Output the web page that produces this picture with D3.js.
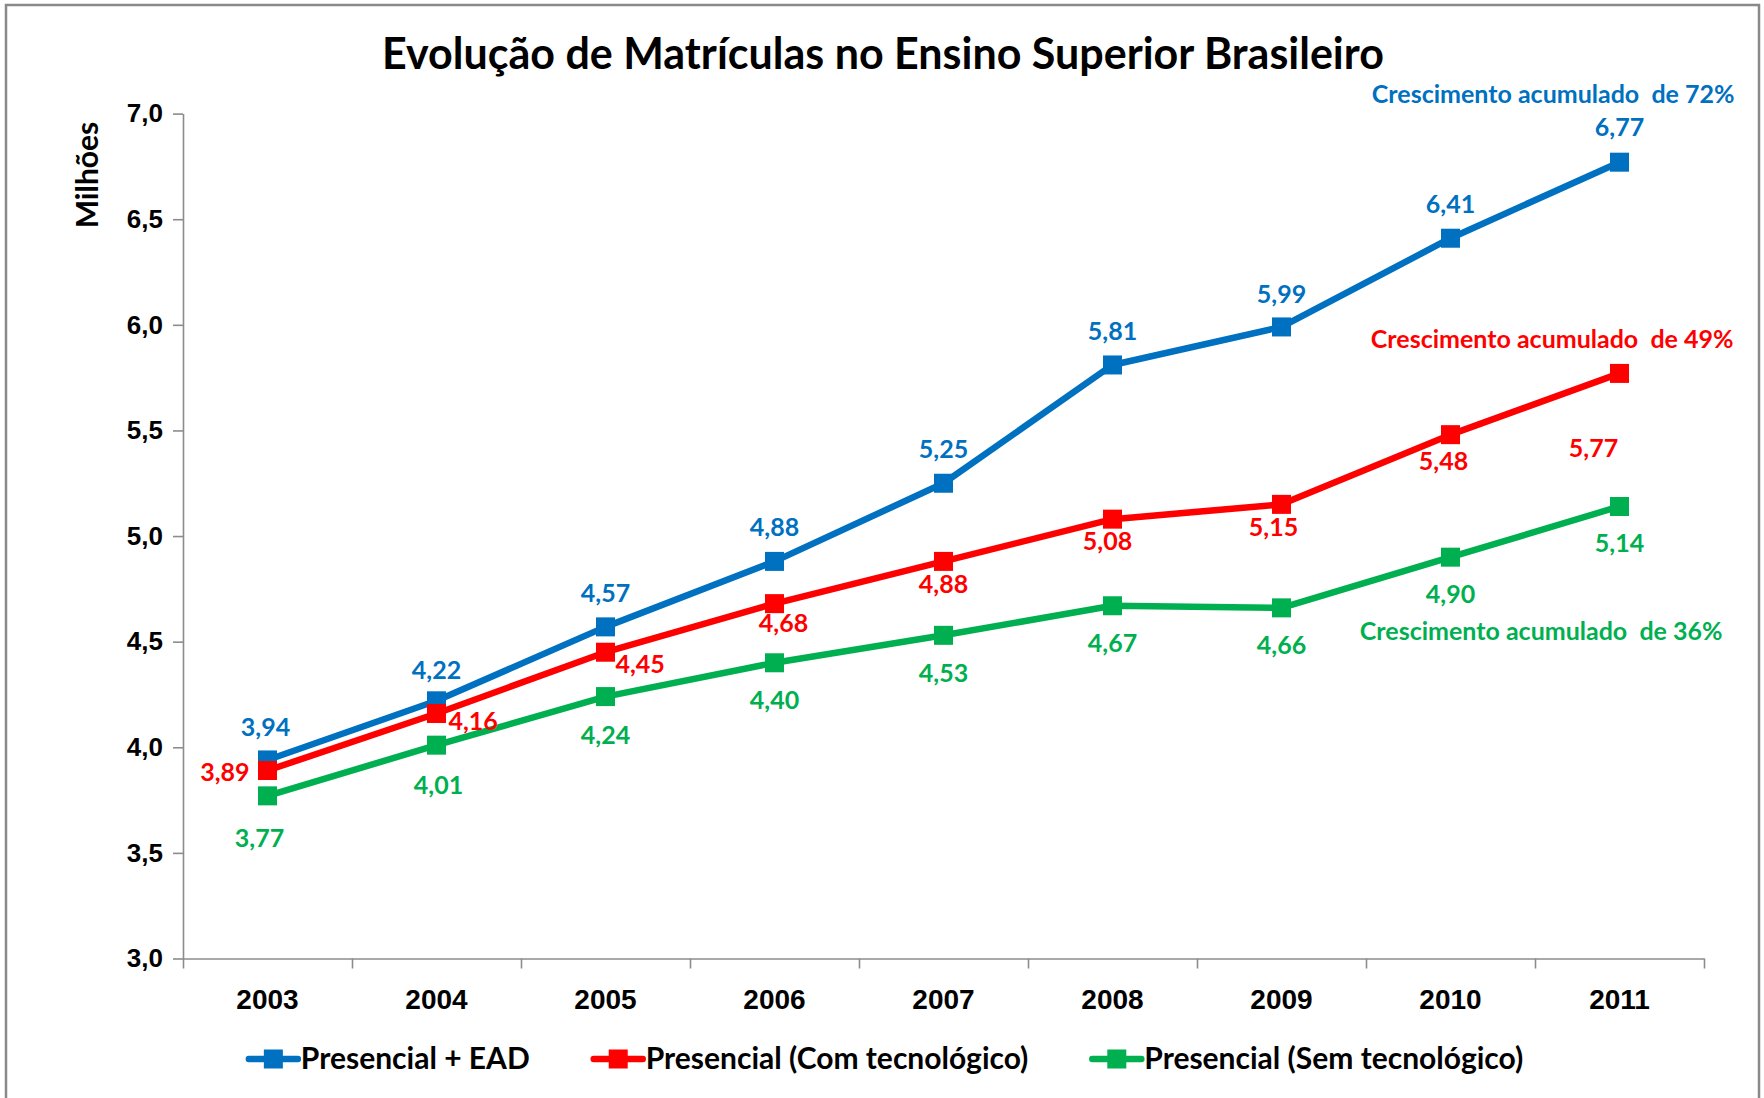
<!DOCTYPE html>
<html>
<head>
<meta charset="utf-8">
<script src="https://cdn.jsdelivr.net/npm/d3@7"></script>
<style>
  body { margin: 0; background: #fff; }
  svg { display: block; font-family: Lato, "Open Sans", sans-serif; font-weight: bold; }
</style>
</head>
<body>
<svg id="chart"></svg>
<script>
// data (milhões de matrículas)
var years = [2003, 2004, 2005, 2006, 2007, 2008, 2009, 2010, 2011];
var presencialEad = [3.94, 4.22, 4.57, 4.88, 5.25, 5.81, 5.99, 6.41, 6.77];
var presencialComTec = [3.89, 4.16, 4.45, 4.68, 4.88, 5.08, 5.15, 5.48, 5.77];
var presencialSemTec = [3.77, 4.01, 4.24, 4.40, 4.53, 4.67, 4.66, 4.90, 5.14];
var seriesNames = ["Presencial + EAD", "Presencial (Com tecnológico)", "Presencial (Sem tecnológico)"];
var growthNotes = ["Crescimento acumulado  de 72%", "Crescimento acumulado  de 49%", "Crescimento acumulado  de 36%"];
var yTicks = [3.0, 3.5, 4.0, 4.5, 5.0, 5.5, 6.0, 6.5, 7.0];

var colors = ["#0070C0", "#FF0000", "#00B050"];

// where each data label sits relative to its marker: [dx, dy, anchor]
var blueLabelPos = [[-2, -33, "middle"], [0, -31, "middle"], [0, -34, "middle"], [0, -34, "middle"], [0, -34, "middle"],
                    [0, -34, "middle"], [0, -33, "middle"], [0, -34, "middle"], [0, -35, "middle"]];
var redLabelPos = [[-18, 1, "end"], [12, 8, "start"], [10, 12, "start"], [9, 19, "middle"], [0, 23, "middle"],
                   [-5, 22, "middle"], [-8, 23, "middle"], [-7, 26, "middle"], [-26, 75, "middle"]];
var greenLabelPos = [[-8, 42, "middle"], [2, 40, "middle"], [0, 38, "middle"], [0, 37, "middle"], [0, 38, "middle"],
                     [0, 37, "middle"], [0, 37, "middle"], [0, 37, "middle"], [0, 37, "middle"]];
// growth notes, relative to the last point of each line
var notePos = [[115, -68], [114, -34], [103, 125]];

var svgWidth = 1764, svgHeight = 1098;
var plot = { left: 183, right: 1704, top: 113.6, bottom: 958.5 };

var locale = d3.formatLocale({ decimal: ",", thousands: ".", grouping: [3], currency: ["R$", ""] });
var fmt1 = locale.format(".1f"), fmt2 = locale.format(".2f");

var svg = d3.select("#chart")
    .attr("width", svgWidth)
    .attr("height", svgHeight);

// outer frame (bottom edge runs off the picture)
svg.append("rect")
    .attr("x", 6).attr("y", 5)
    .attr("width", 1753).attr("height", 1200)
    .attr("fill", "none")
    .attr("stroke", "#898989")
    .attr("stroke-width", 2.5);

svg.append("text")
    .attr("x", 883).attr("y", 69)
    .attr("text-anchor", "middle")
    .attr("font-size", 43)
    .attr("fill", "#000")
    .text("Evolução de Matrículas no Ensino Superior Brasileiro");

var y = d3.scaleLinear().domain([3, 7]).range([plot.bottom, plot.top]);
var xBand = d3.scaleBand().domain(years).range([plot.left, plot.right]);
function xc(yr) { return xBand(yr) + xBand.bandwidth() / 2; }

// y axis
var yAxis = svg.append("g")
    .attr("transform", "translate(" + plot.left + ",0)")
    .call(d3.axisLeft(y).tickValues(yTicks).tickSize(10).tickSizeOuter(0).tickPadding(10).tickFormat(fmt1));
yAxis.selectAll("text").attr("font-size", 26).attr("fill", "#000");

// x axis: boundary ticks + centred year labels
var xEdges = d3.scaleLinear().domain([0, years.length]).range([plot.left, plot.right]);
var xAxis = svg.append("g")
    .attr("transform", "translate(0," + plot.bottom + ")")
    .call(d3.axisBottom(xEdges).ticks(years.length).tickSize(10).tickSizeOuter(0).tickFormat(""));
var xLabels = svg.append("g")
    .attr("transform", "translate(0," + plot.bottom + ")")
    .call(d3.axisBottom(xBand).tickSize(0).tickPadding(31));
xLabels.select(".domain").remove();
xLabels.selectAll("text").attr("font-size", 28).attr("fill", "#000");

svg.selectAll(".domain, .tick line")
    .attr("stroke", "#8c8c8c")
    .attr("stroke-width", 1.6);

svg.append("text")
    .attr("transform", "translate(98,175) rotate(-90)")
    .attr("text-anchor", "middle")
    .attr("font-size", 30)
    .attr("fill", "#000")
    .text("Milhões");

var series = [
    { name: seriesNames[0], values: presencialEad, color: colors[0], labels: blueLabelPos, note: growthNotes[0], notePos: notePos[0] },
    { name: seriesNames[1], values: presencialComTec, color: colors[1], labels: redLabelPos, note: growthNotes[1], notePos: notePos[1] },
    { name: seriesNames[2], values: presencialSemTec, color: colors[2], labels: greenLabelPos, note: growthNotes[2], notePos: notePos[2] }
];

var line = d3.line()
    .x(function(d, i) { return xc(years[i]); })
    .y(function(d) { return y(d); });

var markSize = 19;

series.forEach(function(s) {
    var g = svg.append("g");
    g.append("path")
        .datum(s.values)
        .attr("fill", "none")
        .attr("stroke", s.color)
        .attr("stroke-width", 6.5)
        .attr("stroke-linejoin", "round")
        .attr("d", line);
    g.selectAll("rect")
        .data(s.values)
        .enter()
        .append("rect")
        .attr("x", function(d, i) { return xc(years[i]) - markSize / 2; })
        .attr("y", function(d) { return y(d) - markSize / 2; })
        .attr("width", markSize)
        .attr("height", markSize)
        .attr("fill", s.color);
});

// labels on top of every line
series.forEach(function(s) {
    svg.append("g").selectAll("text")
        .data(s.values)
        .enter()
        .append("text")
        .attr("x", function(d, i) { return xc(years[i]) + s.labels[i][0]; })
        .attr("y", function(d, i) { return y(d) + s.labels[i][1] + 9; })
        .attr("text-anchor", function(d, i) { return s.labels[i][2]; })
        .attr("font-size", 25)
        .attr("fill", s.color)
        .text(function(d) { return fmt2(d); });

    var last = s.values.length - 1;
    svg.append("text")
        .attr("x", xc(years[last]) + s.notePos[0])
        .attr("y", y(s.values[last]) + s.notePos[1] + 9)
        .attr("text-anchor", "end")
        .attr("font-size", 25)
        .attr("fill", s.color)
        .style("white-space", "pre")
        .text(s.note);
});

// legend
var legend = svg.append("g").attr("transform", "translate(0,1059)");
var items = legend.selectAll("g")
    .data(series)
    .enter()
    .append("g");
items.append("line")
    .attr("x1", 0).attr("x2", 49)
    .attr("stroke", function(d) { return d.color; })
    .attr("stroke-width", 6.5)
    .attr("stroke-linecap", "round");
items.append("rect")
    .attr("x", 24.5 - markSize / 2).attr("y", -markSize / 2)
    .attr("width", markSize).attr("height", markSize)
    .attr("fill", function(d) { return d.color; });
items.append("text")
    .attr("x", 52).attr("y", 10)
    .attr("font-size", 30)
    .attr("fill", "#000")
    .text(function(d) { return d.name; });

var widths = [];
items.each(function() { widths.push(52 + d3.select(this).select("text").node().getComputedTextLength()); });
var gap = 64;
var total = d3.sum(widths) + gap * (widths.length - 1);
var start = 886 - total / 2;
items.attr("transform", function(d, i) {
    var off = start + d3.sum(widths.slice(0, i)) + gap * i;
    return "translate(" + off + ",0)";
});
</script>
</body>
</html>
